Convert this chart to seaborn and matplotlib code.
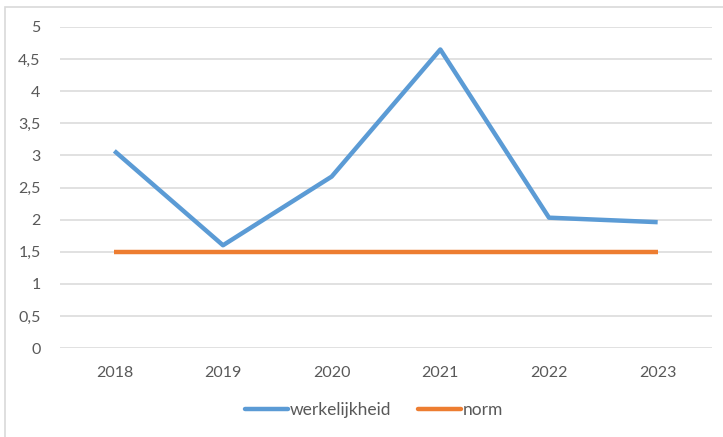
import matplotlib
matplotlib.use("Agg")
import matplotlib.pyplot as plt
from matplotlib.patches import Rectangle
from matplotlib.ticker import FuncFormatter, MultipleLocator
import pandas as pd
import seaborn as sns

years = [2018, 2019, 2020, 2021, 2022, 2023]
werkelijkheid = [3.07, 1.60, 2.67, 4.65, 2.03, 1.96]
norm = [1.5, 1.5, 1.5, 1.5, 1.5, 1.5]

series_names = ["werkelijkheid", "norm"]
series_colors = ["#5B9BD5", "#ED7D31"]

df = pd.DataFrame({
    "jaar": years * 2,
    "waarde": werkelijkheid + norm,
    "reeks": [series_names[0]] * len(years) + [series_names[1]] * len(years),
})

sns.set_theme(style="white")
plt.rcParams["font.family"] = ["Lato", "DejaVu Sans"]

fig = plt.figure(figsize=(7.23, 4.37), dpi=100)
ax = fig.add_axes([60 / 723, 1 - 348 / 437, (712 - 60) / 723, (348 - 27) / 437])

# chart frame
fig.patches.append(Rectangle((5 / 723, -0.1), 1.1, 1 - 7 / 437 + 0.1,
                             transform=fig.transFigure, fill=False,
                             edgecolor="#D9D9D9", linewidth=1.2, zorder=0))

sns.lineplot(data=df, x="jaar", y="waarde", hue="reeks", hue_order=series_names,
             palette=series_colors, linewidth=3.2, ax=ax, legend=False,
             solid_capstyle="butt")

ax.set_xlim(years[0] - 0.5, years[-1] + 0.5)
ax.set_ylim(0, 5)
ax.set_xticks(years)
ax.set_xticklabels([str(y) for y in years])
ax.yaxis.set_major_locator(MultipleLocator(0.5))
ax.yaxis.set_major_formatter(FuncFormatter(lambda v, p: f"{v:g}".replace(".", ",")))
ax.grid(axis="y", color="#D9D9D9", linewidth=1.1)
ax.set_axisbelow(True)
for s in ax.spines.values():
    s.set_visible(False)
ax.tick_params(axis="both", length=0, labelsize=11.5, labelcolor="#595959")
ax.tick_params(axis="y", pad=14)
ax.tick_params(axis="x", pad=13)
ax.set_xlabel("")
ax.set_ylabel("")

handles = [plt.Line2D([], [], color=c, linewidth=3.2) for c in series_colors]
fig.legend(handles, series_names, loc="center", bbox_to_anchor=(374 / 723, 1 - 410 / 437),
           ncol=2, frameon=False, fontsize=12.5, labelcolor="#595959",
           handlelength=2.5, handletextpad=0.1, columnspacing=1.5)

fig.savefig("out.png", dpi=100, facecolor="white")
